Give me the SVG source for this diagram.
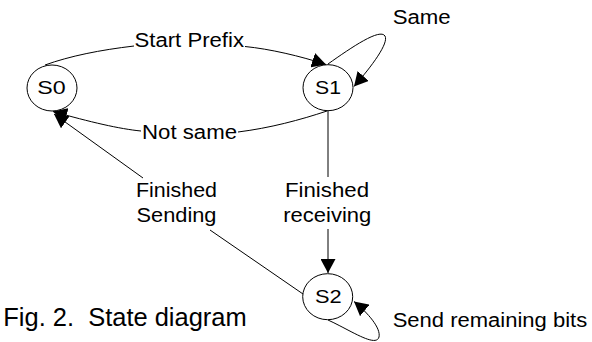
<svg xmlns="http://www.w3.org/2000/svg" width="592" height="342" viewBox="0 0 592 342">
<style>
  .lbl { font-family: "Liberation Sans", Arial, sans-serif; font-size: 20px; fill: #000; }
  .st { font-family: "Liberation Sans", Arial, sans-serif; font-size: 18px; fill: #000; }
  .cap { font-family: "Liberation Sans", Arial, sans-serif; font-size: 25px; fill: #000; white-space: pre; }
  .node { fill: #fff; stroke: #000; stroke-width: 1; }
  .edge { fill: none; stroke: #000; stroke-width: 1; }
</style>
<defs>
  <marker id="arr" markerUnits="userSpaceOnUse" markerWidth="14" markerHeight="15" viewBox="0 0 14 15" refX="14" refY="7.5" orient="auto">
    <path d="M0,0 L14,7.5 L0,15 z" fill="#000"/>
  </marker>
</defs>
<rect width="592" height="342" fill="#fff"/>
<g id="connectors">
  <path class="edge" d="M45,65 C70,56 100,50 134,46"/>
  <path class="edge" d="M245,46.5 C270,49 300,56 326,64.5" marker-end="url(#arr)"/>
  <path class="edge" d="M327,111 C300,120 270,128 238,132"/>
  <path class="edge" d="M141,131 C120,129 90,122 53,111.5" marker-end="url(#arr)"/>
  <path class="edge" d="M303,294 L210,230"/>
  <path class="edge" d="M143,178 L54,114" marker-end="url(#arr)"/>
  <path class="edge" d="M328,111 L328,177"/>
  <path class="edge" d="M328,229 L328,273" marker-end="url(#arr)"/>
  <path class="edge" d="M328,64 C352,47 380,28 385,36 C389,43 372,66 354,86.5" marker-end="url(#arr)"/>
  <path class="edge" d="M328,320 C350,330 376,348 379,337 C381,328 368,313 354,301.5" marker-end="url(#arr)"/>
</g>
<g id="labels">
  <text class="lbl" x="134.5" y="46.5" textLength="109.5" lengthAdjust="spacingAndGlyphs">Start Prefix</text>
  <text class="lbl" x="142" y="139" textLength="95" lengthAdjust="spacingAndGlyphs">Not same</text>
  <text class="lbl" x="136" y="197" textLength="81" lengthAdjust="spacingAndGlyphs">Finished</text>
  <text class="lbl" x="136.5" y="222" textLength="80" lengthAdjust="spacingAndGlyphs">Sending</text>
  <text class="lbl" x="285" y="197" textLength="84" lengthAdjust="spacingAndGlyphs">Finished</text>
  <text class="lbl" x="283.3" y="222" textLength="88" lengthAdjust="spacingAndGlyphs">receiving</text>
  <text class="lbl" x="392.7" y="24" textLength="58" lengthAdjust="spacingAndGlyphs">Same</text>
  <text class="lbl" x="392.7" y="326.5" textLength="194.5" lengthAdjust="spacingAndGlyphs">Send remaining bits</text>
</g>
<g id="S0">
  <ellipse class="node" cx="52" cy="88" rx="25" ry="23"/>
  <text class="st" x="37.3" y="94.3" textLength="28.4" lengthAdjust="spacingAndGlyphs">S0</text>
</g>
<g id="S1">
  <ellipse class="node" cx="328" cy="87.7" rx="25" ry="23"/>
  <text class="st" x="315" y="94.3" textLength="26" lengthAdjust="spacingAndGlyphs">S1</text>
</g>
<g id="S2">
  <ellipse class="node" cx="327.7" cy="296.7" rx="25" ry="23"/>
  <text class="st" x="315" y="302.7" textLength="26.7" lengthAdjust="spacingAndGlyphs">S2</text>
</g>
<g id="caption">
  <text class="cap" x="3.3" y="325.7" textLength="243.4" lengthAdjust="spacingAndGlyphs">Fig. 2.  State diagram</text>
</g>
</svg>
